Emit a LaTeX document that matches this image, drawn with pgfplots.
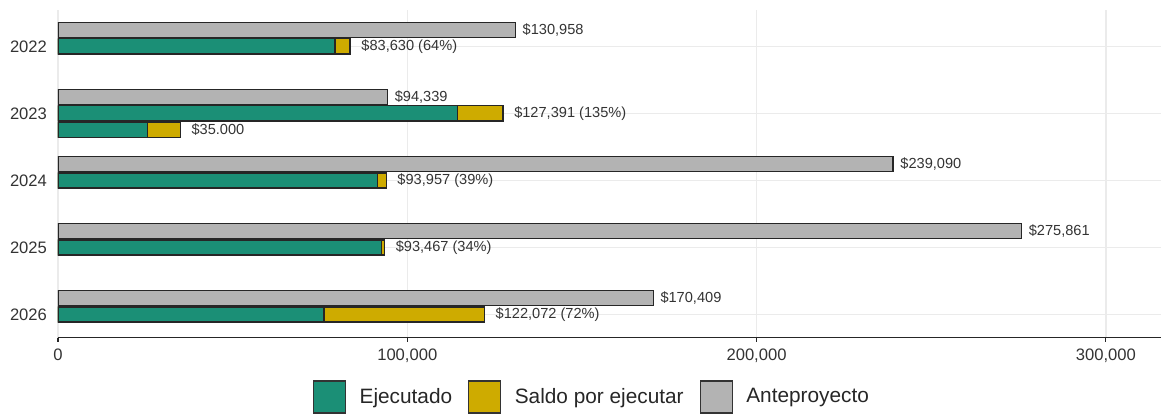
\documentclass[border=0pt]{standalone}
\usepackage{fontspec}
\setmainfont{Liberation Sans}
\usepackage{pgfplots}
\pgfplotsset{compat=1.18}
\definecolor{ejec}{HTML}{1B8F76}
\definecolor{saldo}{HTML}{CEAB00}
\definecolor{ante}{HTML}{B3B3B3}
\definecolor{gridc}{HTML}{EBEBEB}
\definecolor{txt}{HTML}{333333}
\begin{document}
\begin{tikzpicture}
\begin{axis}[
  scale only axis, width=551.5pt, height=163.75pt,
  xbar, bar shift=0pt, bar width=0.225,
  xmin=0, xmax=315800, ymin=-0.543, ymax=4.345, y dir=reverse,
  axis x line*=bottom, axis y line*=left, y axis line style={draw=none},
  x axis line style={black!85, line width=0.75pt},
  scaled x ticks=false,
  xtick={0,100000,200000,300000}, xticklabels={0,{100,000},{200,000},{300,000}},
  ytick={0,...,4}, yticklabels={2022,2023,2024,2025,2026},
  xtick style={black!85, line width=0.65pt}, major tick length=2pt, tick align=outside,
  ytick style={draw=none},
  xmajorgrids, ymajorgrids, grid style={gridc, line width=0.75pt},
  ticklabel style={font=\fontsize{8.3}{10}\selectfont, text=txt},
  /pgf/number format/assume math mode=true,
  every axis plot/.append style={draw=black!85, line width=0.65pt},
  legend style={at={(0.485,-0.1817)}, anchor=center, draw=none, fill=none,
    legend columns=3, font=\fontsize{10.4}{12}\selectfont, text=black!85,
    /tikz/every even column/.append style={column sep=6pt}},
  legend image code/.code={\draw[#1, draw=black!80, line width=0.65pt] (0pt,-8pt) rectangle (16pt,8pt);
    \path[draw=none, fill=none] (0pt,0pt) rectangle (21pt,0.1pt);},
]
% Anteproyecto
\addplot[fill=ante, forget plot, nodes near coords, point meta=explicit symbolic,
  every node near coord/.append style={font=\fontsize{7.3}{9}\selectfont, text=txt, anchor=west}]
  coordinates {(130958,-0.246) [\$130,958] (94339,0.754) [\$94,339] (239090,1.754) [\$239,090]
               (275861,2.754) [\$275,861] (170409,3.754) [\$170,409]};
% total (ejecutado + saldo)
\addplot[fill=saldo, forget plot, nodes near coords, point meta=explicit symbolic,
  every node near coord/.append style={font=\fontsize{7.3}{9}\selectfont, text=txt, anchor=west, xshift=2pt}]
  coordinates {(83630,0) [\$83,630 (64\%)] (127391,1) [\$127,391 (135\%)] (35000,1.246) [\$35.000]
               (93957,2) [\$93,957 (39\%)] (93467,3) [\$93,467 (34\%)] (122072,4) [\$122,072 (72\%)]};
% ejecutado
\addplot[fill=ejec, forget plot]
  coordinates {(79300,0) (114300,1) (25700,1.246) (91500,2) (92700,3) (76200,4)};
\addlegendimage{fill=ejec}\addlegendentry{Ejecutado}
\addlegendimage{fill=saldo}\addlegendentry{Saldo por ejecutar}
\addlegendimage{fill=ante}\addlegendentry{Anteproyecto}
\coordinate (sw) at (axis description cs:0,0);
\coordinate (ne) at (axis description cs:1,1);
\end{axis}
\pgfresetboundingbox
\path ([xshift=-29pt,yshift=-37.75pt]sw) rectangle ([yshift=5pt]ne);
\end{tikzpicture}
\end{document}
